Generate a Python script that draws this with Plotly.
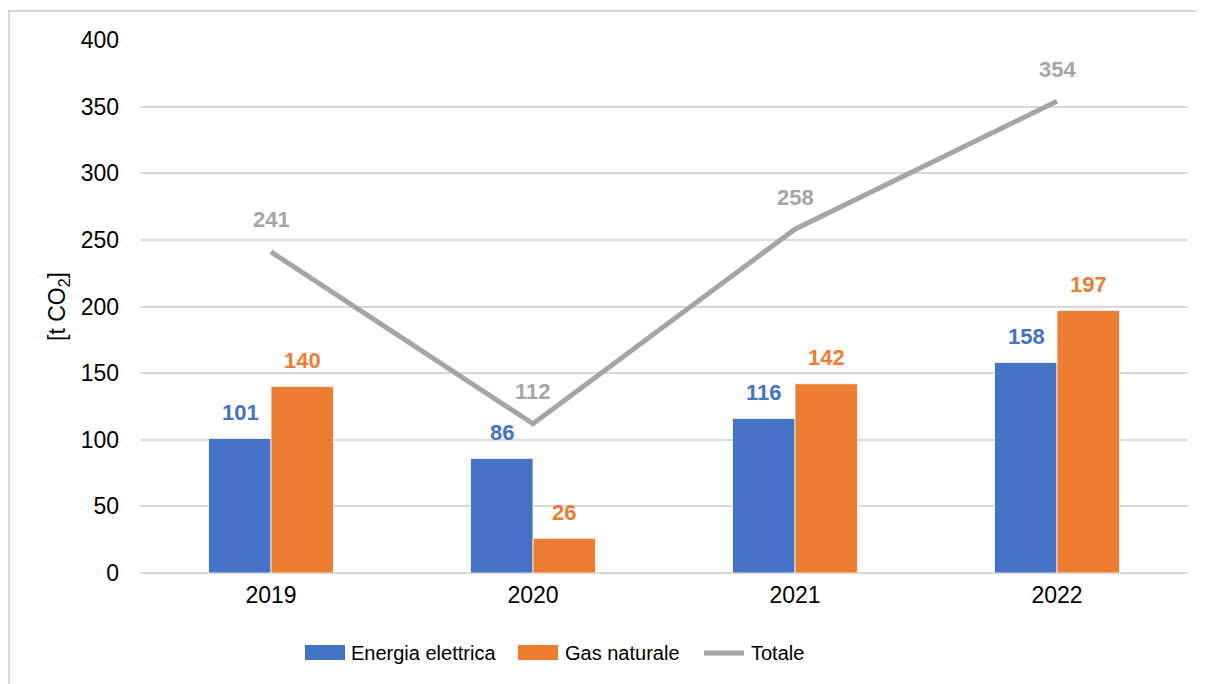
import plotly.graph_objects as go

years = ["2019", "2020", "2021", "2022"]
energia = [101, 86, 116, 158]
gas = [140, 26, 142, 197]
totale = [241, 112, 258, 354]
y_ticks = [0, 50, 100, 150, 200, 250, 300, 350, 400]
legend_names = ["Energia elettrica", "Gas naturale", "Totale"]

BLUE = "#4472C4"
ORANGE = "#ED7D31"
GRAY = "#A5A5A5"
FONT = "Liberation Sans, Arial, sans-serif"
FS = 23
FS_LEG = 20

OFF = 8  # page body margin
W, H = 1205 - OFF, 684 - OFF
L, R, T, B = 140 - OFF, 17, 40 - OFF, 111
PW, PH = W - L - R, H - T - B


def px(xw):
    return (xw - OFF - L) / PW


def py(yw):
    return (684 - B - yw) / PH


fig = go.Figure()
fig.add_trace(go.Bar(x=years, y=energia, name=legend_names[0], showlegend=False,
                     marker=dict(color=BLUE, line=dict(color="white", width=0.8))))
fig.add_trace(go.Bar(x=years, y=gas, name=legend_names[1], showlegend=False,
                     marker=dict(color=ORANGE, line=dict(color="white", width=0.8))))
fig.add_trace(go.Scatter(x=years, y=totale, name=legend_names[2], mode="lines",
                         showlegend=False, line=dict(color=GRAY, width=5)))

ann = []
for i, yr in enumerate(years):
    ann.append(dict(x=i, y=energia[i], text=f"<b>{energia[i]}</b>", xshift=-31, yshift=26,
                    showarrow=False, font=dict(color=BLUE, size=FS - 1, family=FONT)))
    ann.append(dict(x=i, y=gas[i], text=f"<b>{gas[i]}</b>", xshift=31, yshift=26,
                    showarrow=False, font=dict(color=ORANGE, size=FS - 1, family=FONT)))
    ann.append(dict(x=i, y=totale[i], text=f"<b>{totale[i]}</b>", xshift=0, yshift=32,
                    showarrow=False, font=dict(color=GRAY, size=FS - 1, family=FONT)))

shapes = [dict(type="rect", xref="paper", yref="paper", x0=px(9), x1=px(1215),
               y0=py(700), y1=py(11), line=dict(color="#D9D9D9", width=2),
               fillcolor="rgba(0,0,0,0)", layer="below")]
leg_y = 653
sw = [(305, BLUE), (518, ORANGE)]
for (x0, c) in sw:
    shapes.append(dict(type="rect", xref="paper", yref="paper", x0=px(x0), x1=px(x0 + 40),
                       y0=py(leg_y + 7), y1=py(leg_y - 8), fillcolor=c, line=dict(width=0)))
shapes.append(dict(type="line", xref="paper", yref="paper", x0=px(704), x1=px(744),
                   y0=py(leg_y), y1=py(leg_y), line=dict(color=GRAY, width=5)))
for name, xt in zip(legend_names, [349, 563, 749]):
    ann.append(dict(x=px(xt), y=py(leg_y), xref="paper", yref="paper", text=name,
                    xanchor="left", yanchor="middle", showarrow=False,
                    font=dict(size=FS_LEG, family=FONT, color="black")))

fig.update_layout(
    width=W, height=H,
    margin=dict(l=L, r=R, t=T, b=B),
    paper_bgcolor="white", plot_bgcolor="white",
    barmode="group", bargap=0.523, bargroupgap=0,
    font=dict(family=FONT, size=FS, color="black"),
    annotations=ann,
    shapes=shapes,
    showlegend=False,
    xaxis=dict(type="category", range=[-0.5, 3.5], showgrid=False, ticks="",
               tickfont=dict(size=FS), showline=False, ticklabelstandoff=6),
    yaxis=dict(range=[0, 400], tickvals=y_ticks, showgrid=True, gridcolor="#D9D9D9",
               gridwidth=1.5, zeroline=True, zerolinecolor="#D9D9D9", zerolinewidth=2,
               tickfont=dict(size=FS), ticklabelstandoff=20,
               title=dict(text="[t CO<sub>2</sub>]", font=dict(size=FS), standoff=8)),
)

fig.write_html("out.html")
